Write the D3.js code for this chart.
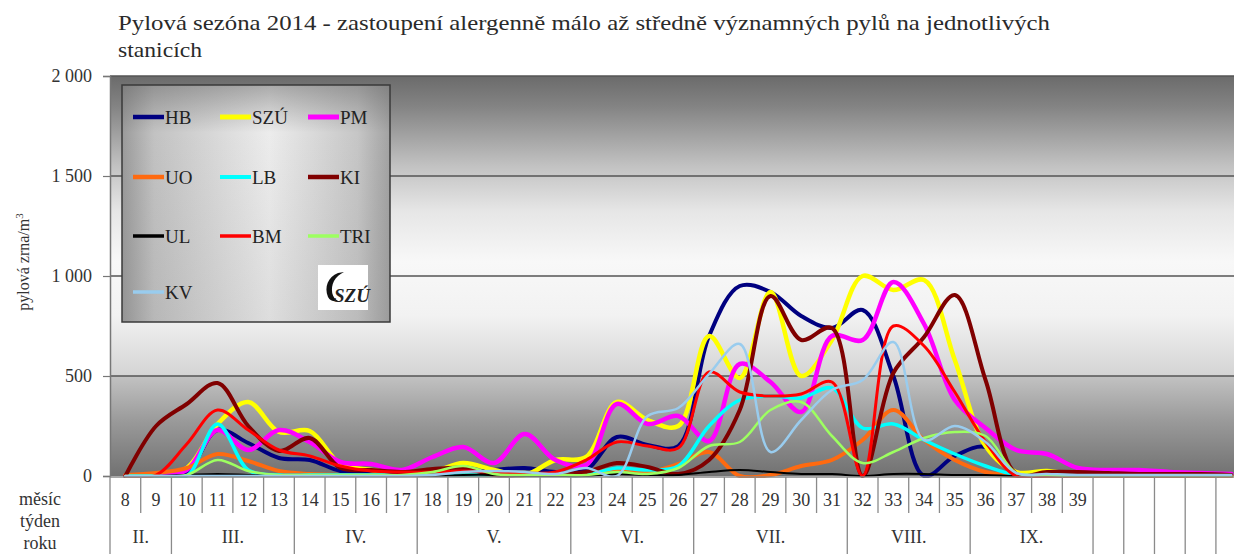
<!DOCTYPE html>
<html>
  <head>
    <meta charset="utf-8">
    <title>Pylová sezóna 2014</title>
    <script src="https://cdn.jsdelivr.net/npm/d3@7"></script>
    <style>
      body { margin: 0; background: #fff; }
      svg text { font-family: 'Liberation Serif', 'Times New Roman', serif; fill: #2a2a2a; }
      .title { font-size: 21px; }
      .ytitle { font-size: 16px; text-anchor: middle; fill: #333; }
      .axis text { font-size: 18px; fill: #333; }
      .axis path { stroke: #777; stroke-width: 1.5; }
      .axis line { stroke: #777; stroke-width: 1.2; }
      .grid line { stroke: #555; stroke-width: 1.5; }
      .table line { stroke: #8a8a8a; stroke-width: 1.3; }
      .table text { font-size: 18px; text-anchor: middle; fill: #333; }
      .series { fill: none; stroke-linejoin: round; stroke-linecap: round; }
      .legend text { font-size: 19px; fill: #222; }
    </style>
  </head>
  <body>
    <script>

      // weeks of the year (category axis), 40-44 are empty columns
      var weeks = [8, 9, 10, 11, 12, 13, 14, 15, 16, 17, 18, 19, 20, 21, 22, 23, 24, 25, 26,
                   27, 28, 29, 30, 31, 32, 33, 34, 35, 36, 37, 38, 39, 40, 41, 42, 43, 44];
      var lastLabelledWeek = 39;

      var monthLabels = ["II.", "III.", "IV.", "V.", "VI.", "VII.", "VIII.", "IX."];
      var monthFirstWeek = [8, 10, 14, 18, 23, 27, 32, 36];
      var monthLastWeek  = [9, 13, 17, 22, 26, 31, 35, 39];

      var yTicks = [0, 500, 1000, 1500, 2000];

      var seriesNames  = ["HB", "SZÚ", "PM", "UO", "LB", "KI", "UL", "BM", "TRI", "KV"];
      var seriesColors = ["#000080", "#ffff00", "#ff00ff", "#ff6a10", "#00ffff",
                          "#800000", "#000000", "#ff0000", "#9dff60", "#99ccee"];
      var seriesWidths = [4, 4.5, 4.5, 4, 3.5, 4, 2, 3, 2.5, 2.5];

      var HB  = [0, 0, 20, 230, 165, 90, 80, 25, 15, 10, 15, 20, 30, 40, 20, 30, 195, 155, 150, 700,
                 950, 920, 800, 740, 830, 500, 0, 100, 145, 5, 0, 0, 0, 0, 0, 0, 0];
      var SZU = [0, 5, 40, 260, 370, 220, 225, 60, 30, 15, 20, 65, 30, 5, 80, 95, 370, 280, 250, 700,
                 490, 920, 500, 680, 1000, 930, 980, 580, 150, 20, 25, 5, 0, 0, 0, 0, 0];
      var PM  = [0, 5, 30, 230, 130, 230, 170, 70, 60, 30, 95, 145, 65, 210, 80, 55, 360, 260, 300, 175,
                 560, 470, 320, 700, 680, 970, 760, 380, 240, 130, 110, 40, 30, 30, 20, 15, 10];
      var UO  = [5, 15, 40, 110, 75, 25, 10, 5, 5, 5, 5, 5, 5, 5, 5, 10, 35, 20, 60, 120,
                 0, 5, 50, 80, 180, 330, 180, 80, 20, 0, 0, 0, 0, 0, 0, 0, 0];
      var LB  = [0, 0, 0, 260, 30, 5, 5, 5, 5, 5, 5, 5, 5, 5, 5, 5, 40, 30, 50, 250,
                 380, 400, 390, 440, 240, 260, 180, 110, 50, 5, 5, 5, 5, 5, 5, 5, 5];
      var KI  = [0, 250, 360, 465, 250, 125, 190, 40, 30, 20, 35, 40, 5, 5, 10, 20, 65, 45, 10, 80,
                 330, 900, 680, 740, 0, 515, 695, 905, 480, 10, 20, 20, 15, 10, 10, 10, 5];
      var UL  = [0, 0, 5, 10, 5, 0, 0, 0, 0, 0, 0, 5, 5, 0, 0, 0, 10, 5, 5, 20,
                 30, 20, 10, 10, 0, 10, 10, 5, 5, 0, 0, 0, 0, 0, 0, 0, 0];
      var BM  = [0, 5, 160, 330, 230, 130, 100, 50, 25, 20, 20, 25, 20, 15, 20, 80, 170, 150, 140, 520,
                 420, 400, 410, 470, 0, 750, 650, 420, 170, 0, 0, 0, 0, 0, 0, 0, 0];
      var TRI = [0, 0, 5, 80, 25, 5, 5, 5, 5, 5, 20, 50, 10, 5, 5, 5, 20, 10, 40, 150,
                 170, 330, 370, 200, 65, 120, 190, 220, 200, 15, 5, 0, 0, 0, 0, 0, 0];
      var KV  = [0, 0, 0, 0, 0, 0, 0, 0, 0, 0, 5, 20, 25, 20, 10, 40, 0, 300, 340, 510,
                 660, 120, 280, 430, 480, 670, 180, 250, 170, 15, 10, 5, 5, 5, 5, 5, 5];

      var seriesValues = [HB, SZU, PM, UO, LB, KI, UL, BM, TRI, KV];

      var outerWidth = 1234;
      var outerHeight = 554;
      var plotLeft = 110, plotTop = 76, plotBottom = 476;
      var colWidth = 30.72;
      var serif = "'Liberation Serif', 'Times New Roman', serif";

      var svg = d3.select("body").append("svg")
        .attr("width", outerWidth)
        .attr("height", outerHeight)
        .attr("font-family", serif);

      var defs = svg.append("defs");

      var bgTop = defs.append("linearGradient").attr("id", "bgTop")
        .attr("x1", 0).attr("y1", 0).attr("x2", 0).attr("y2", 1);
      [[0, "#6b6b6b"], [0.1, "#838383"], [0.3, "#c2c2c2"], [0.45, "#e6e6e6"],
       [0.62, "#f8f8f8"], [0.8, "#f2f2f2"], [1, "#d4d4d4"]].forEach(function(s) {
        bgTop.append("stop").attr("offset", s[0]).attr("stop-color", s[1]);
      });
      var bgBottom = defs.append("linearGradient").attr("id", "bgBottom")
        .attr("x1", 0).attr("y1", 0).attr("x2", 0).attr("y2", 1);
      [[0, "#c2c2c2"], [0.45, "#9a9a9a"], [1, "#717171"]].forEach(function(s) {
        bgBottom.append("stop").attr("offset", s[0]).attr("stop-color", s[1]);
      });
      var legendGrad = defs.append("linearGradient").attr("id", "legendGrad")
        .attr("x1", 0).attr("y1", 0).attr("x2", 1).attr("y2", 0);
      [[0, "#9a9a9a"], [0.12, "#c2c2c2"], [0.55, "#ececec"], [0.88, "#c6c6c6"], [1, "#a2a2a2"]].forEach(function(s) {
        legendGrad.append("stop").attr("offset", s[0]).attr("stop-color", s[1]);
      });
      var legendShade = defs.append("linearGradient").attr("id", "legendShade")
        .attr("x1", 0).attr("y1", 0).attr("x2", 0).attr("y2", 1);
      [[0, "rgba(90,90,90,0.45)"], [0.2, "rgba(90,90,90,0)"], [1, "rgba(90,90,90,0.1)"]].forEach(function(s) {
        legendShade.append("stop").attr("offset", s[0]).attr("stop-color", s[1]);
      });

      defs.append("clipPath").attr("id", "plotClip")
        .append("rect")
        .attr("x", plotLeft).attr("y", plotTop - 4)
        .attr("width", outerWidth - plotLeft).attr("height", plotBottom - plotTop + 6);

      var xScale = d3.scaleBand()
        .domain(weeks)
        .range([plotLeft, plotLeft + weeks.length * colWidth]);
      var yScale = d3.scaleLinear()
        .domain([0, 2000])
        .range([plotBottom, plotTop]);

      function xMid(w) { return xScale(w) + xScale.bandwidth() / 2; }

      // titles
      var titlesBox = svg.append("g");
      titlesBox.append("text")
        .attr("class", "title")
        .attr("x", 118).attr("y", 30)
        .attr("textLength", 932).attr("lengthAdjust", "spacingAndGlyphs")
        .text("Pylová sezóna 2014 - zastoupení alergenně málo až středně významných pylů na jednotlivých");
      titlesBox.append("text")
        .attr("class", "title")
        .attr("x", 118).attr("y", 57)
        .attr("textLength", 84).attr("lengthAdjust", "spacingAndGlyphs")
        .text("stanicích");

      // plot background
      var bg = svg.append("g");
      bg.append("rect")
        .attr("x", plotLeft).attr("y", yScale(2000))
        .attr("width", outerWidth - plotLeft).attr("height", yScale(500) - yScale(2000))
        .attr("fill", "url(#bgTop)");
      bg.append("rect")
        .attr("x", plotLeft).attr("y", yScale(500))
        .attr("width", outerWidth - plotLeft).attr("height", yScale(0) - yScale(500))
        .attr("fill", "url(#bgBottom)");

      // gridlines
      svg.append("g").attr("class", "grid")
        .selectAll("line").data(yTicks.filter(function(d) { return d > 0; }))
        .enter().append("line")
        .attr("x1", plotLeft).attr("x2", outerWidth)
        .attr("y1", function(d) { return yScale(d); })
        .attr("y2", function(d) { return yScale(d); });

      // y axis
      var locale = d3.formatLocale({ decimal: ",", thousands: "\u00a0", grouping: [3], currency: ["", ""] });
      var yAxis = d3.axisLeft(yScale)
        .tickValues(yTicks)
        .tickSize(7)
        .tickPadding(11)
        .tickFormat(locale.format(","));
      svg.append("g")
        .attr("class", "y axis")
        .attr("transform", "translate(" + plotLeft + ",0)")
        .call(yAxis)
        .attr("font-family", serif);

      svg.append("text")
        .attr("class", "ytitle")
        .attr("transform", "translate(29,262) rotate(-90)")
        .html("pylová zrna/m<tspan dy='-6' font-size='11'>3</tspan>");

      // series
      var line = d3.line()
        .x(function(d) { return xMid(d.week); })
        .y(function(d) { return yScale(d.value); })
        .curve(d3.curveCatmullRom);

      var chart = svg.append("g").attr("clip-path", "url(#plotClip)");
      seriesNames.forEach(function(name, i) {
        var pts = weeks.map(function(w, j) { return { week: w, value: seriesValues[i][j] }; });
        chart.append("path")
          .datum(pts)
          .attr("class", "series")
          .attr("stroke", seriesColors[i])
          .attr("stroke-width", seriesWidths[i])
          .attr("d", line);
      });

      // category table under the plot
      var table = svg.append("g").attr("class", "table");
      table.append("line")
        .attr("x1", plotLeft).attr("x2", outerWidth)
        .attr("y1", plotBottom + 1).attr("y2", plotBottom + 1)
        .attr("stroke", "#808080");

      var edges = weeks.concat([weeks[weeks.length - 1] + 1]);
      table.selectAll("line.sep").data(edges).enter().append("line")
        .attr("class", "sep")
        .attr("x1", function(w, i) { return plotLeft + i * xScale.bandwidth(); })
        .attr("x2", function(w, i) { return plotLeft + i * xScale.bandwidth(); })
        .attr("y1", plotBottom + 1)
        .attr("y2", function(w) {
          var full = monthFirstWeek.indexOf(w) >= 0 || w > lastLabelledWeek;
          return full ? outerHeight : 513;
        });

      table.selectAll("text.week")
        .data(weeks.filter(function(w) { return w <= lastLabelledWeek; }))
        .enter().append("text")
        .attr("class", "week")
        .attr("x", function(w) { return xMid(w); })
        .attr("y", 506)
        .text(function(w) { return w; });

      table.selectAll("text.month").data(monthLabels).enter().append("text")
        .attr("class", "month")
        .attr("x", function(d, i) {
          return (xScale(monthFirstWeek[i]) + xScale(monthLastWeek[i]) + xScale.bandwidth()) / 2;
        })
        .attr("y", 543)
        .text(function(d) { return d; });

      table.selectAll("text.rowlab").data(["měsíc", "týden", "roku"]).enter().append("text")
        .attr("class", "rowlab")
        .attr("x", 40)
        .attr("y", function(d, i) { return 505 + i * 22; })
        .text(function(d) { return d; });

      // legend
      var legend = svg.append("g").attr("class", "legend");
      legend.append("rect")
        .attr("x", 122).attr("y", 85).attr("width", 268).attr("height", 237)
        .attr("fill", "url(#legendGrad)");
      legend.append("rect")
        .attr("x", 122).attr("y", 85).attr("width", 268).attr("height", 237)
        .attr("fill", "url(#legendShade)")
        .attr("stroke", "#3a3a3a").attr("stroke-width", 1.5);

      var legendColX = [133, 220, 308];
      var legendRowY = [117, 177, 236, 292];
      var items = legend.selectAll("g.item").data(seriesNames).enter().append("g")
        .attr("class", "item")
        .attr("transform", function(d, i) {
          return "translate(" + legendColX[i % 3] + "," + legendRowY[Math.floor(i / 3)] + ")";
        });
      items.append("line")
        .attr("x1", 0).attr("x2", 31).attr("y1", 0).attr("y2", 0)
        .attr("stroke", function(d, i) { return seriesColors[i]; })
        .attr("stroke-width", function(d, i) { return Math.max(seriesWidths[i] + 0.5, 3.5); });
      items.append("text")
        .attr("x", 32).attr("y", 7)
        .text(function(d) { return d; });

      // SZU logo
      var logo = legend.append("g").attr("transform", "translate(318,265)");
      logo.append("rect").attr("width", 50).attr("height", 45).attr("fill", "#fff");
      logo.append("path")
        .attr("d", "M20,8 C10,12 6,22 10,32 C12,36 16,37 20,36 C14,33 12,24 16,16 C18,12 22,9 26,7 Z")
        .attr("fill", "#111");
      logo.append("text")
        .attr("x", 16).attr("y", 37)
        .attr("font-size", 11).attr("font-weight", "bold").attr("font-style", "italic")
        .attr("font-family", "'Liberation Sans', sans-serif")
        .text("SZÚ");

    </script>
  </body>
</html>
